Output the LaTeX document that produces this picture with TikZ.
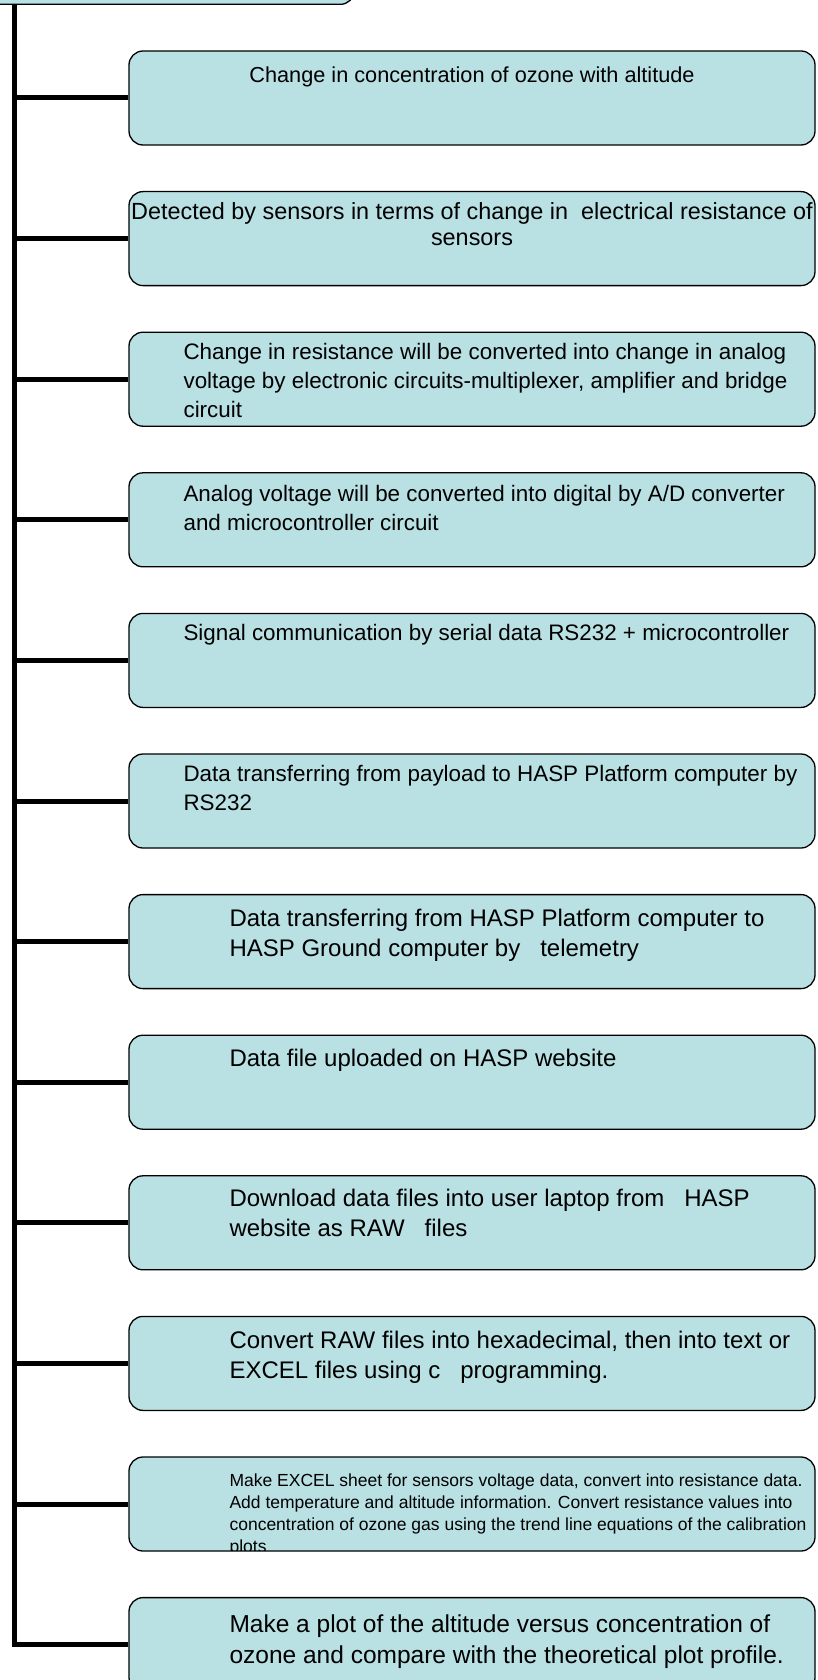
\documentclass[tikz,border=0pt]{standalone}
\usepackage{fontspec}
\setmainfont{Liberation Sans}
\usetikzlibrary{positioning}
\definecolor{boxblue}{RGB}{185,224,227}
\tikzset{
  stage/.style   = {draw, fill=boxblue, rounded corners=14pt, line width=1.3pt,
                    minimum width=686pt, minimum height=94pt, inner sep=0pt},
  caption/.style = {inner sep=0pt, align=left, anchor=north west},
  plain/.style   = {font=\fontsize{22.4}{29}\selectfont},
  large/.style   = {font=\fontsize{24}{30}\selectfont},
  small/.style   = {font=\fontsize{17.5}{22}\selectfont},
  trunk/.style   = {line width=5pt, line join=miter}
}
\begin{document}
\begin{tikzpicture}[x=1pt, y=-1pt, node distance=45.3pt]
  \useasboundingbox (0,0) rectangle (817,1680);

  % cut-off box at the top
  \node[stage, minimum width=420pt, minimum height=60pt, anchor=south east] (root) at (355,5) {};
  \coordinate (spine) at (14,5);

  % the steps
  \node[stage] (ozone) at (472,98) {};
  \node[stage, below=of ozone] (sensor) {};
  \node[stage, below=of sensor] (bridge) {};
  \node[stage, below=of bridge] (adc) {};
  \node[stage, below=of adc] (serial) {};
  \node[stage, below=of serial] (payload) {};
  \node[stage, below=of payload] (telemetry) {};
  \node[stage, below=of telemetry] (website) {};
  \node[stage, below=of website] (download) {};
  \node[stage, below=of download] (convert) {};
  \node[stage, below=of convert] (excel) {};
  \node[stage, below=of excel] (plot) {};

  % texts
  \node[caption, anchor=north, align=center, font=\fontsize{21.7}{29}\selectfont] (ozone text) at ([shift={(0,16)}]ozone.north)
    {Change in concentration of ozone with altitude};
  \node[caption, anchor=north, align=center, font=\fontsize{23.4}{26}\selectfont] (sensor text) at ([shift={(0,11)}]sensor.north)
    {Detected by sensors in terms of change in\ \ electrical resistance of\\ sensors};
  \node[caption, plain] (bridge text) at ([shift={(55,12)}]bridge.north west)
    {Change in resistance will be converted into change in analog\\
     voltage by electronic circuits-multiplexer, amplifier and bridge\\ circuit};
  \node[caption, plain] (adc text) at ([shift={(55,13)}]adc.north west)
    {Analog voltage will be converted into digital by A/D converter\\ and microcontroller circuit};
  \node[caption, plain] (serial text) at ([shift={(55,11)}]serial.north west)
    {Signal communication by serial data RS232 + microcontroller};
  \node[caption, plain] (payload text) at ([shift={(55,12)}]payload.north west)
    {Data transferring from payload to HASP Platform computer by\\ RS232};
  \node[caption, large] (telemetry text) at ([shift={(101,15)}]telemetry.north west)
    {Data transferring from HASP Platform computer to\\ HASP Ground computer by\ \ \ telemetry};
  \node[caption, large] (website text) at ([shift={(101,14)}]website.north west)
    {Data file uploaded on HASP website};
  \node[caption, large] (download text) at ([shift={(101,14)}]download.north west)
    {Download data files into user laptop from\ \ \ HASP\\ website as RAW\ \ \ files};
  \node[caption, large] (convert text) at ([shift={(101,15)}]convert.north west)
    {Convert RAW files into hexadecimal, then into text or\\ EXCEL files using c\ \ \ programming.};
  \begin{scope}
    \clip ([shift={(0,1)}]excel.north west) rectangle ([shift={(0,-1)}]excel.south east);
    \node[caption, small] (excel text) at ([shift={(101,17)}]excel.north west)
      {Make EXCEL sheet for sensors voltage data, convert into resistance data.\\
       Add temperature and altitude information. Convert resistance values into\\
       concentration of ozone gas using the trend line equations of the calibration\\ plots};
  \end{scope}
  \node[caption, font=\fontsize{24.5}{31}\selectfont] (plot text) at ([shift={(101,18)}]plot.north west)
    {Make a plot of the altitude versus concentration of\\ ozone and compare with the theoretical plot profile.};

  % tree lines
  \draw[trunk] (root.south -| spine) -- (spine |- plot.west);
  \foreach \step in {ozone, sensor, bridge, adc, serial, payload, telemetry, website, download, convert, excel}
    \draw[trunk] (spine |- \step.west) -- (\step.west);
  \draw[trunk] (root.south -| spine) |- (plot.west);
\end{tikzpicture}
\end{document}
